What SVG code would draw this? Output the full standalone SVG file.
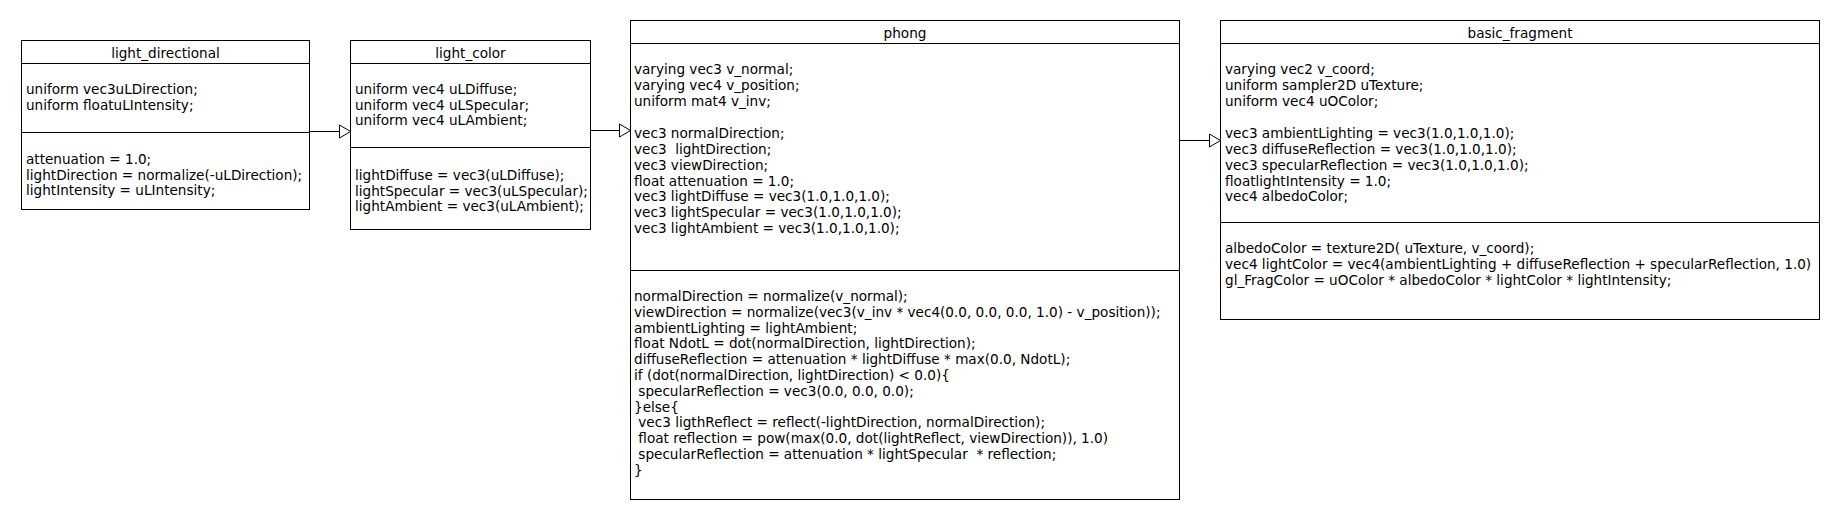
<svg xmlns="http://www.w3.org/2000/svg" width="1840" height="520" viewBox="0 0 1840 520">
<defs>
<style>
.box{fill:#fff;stroke:#000;stroke-width:1}
.sep{stroke:#000;stroke-width:1}
.t{font-family:"DejaVu Sans","Liberation Sans",sans-serif;font-size:13.6px;fill:#000}
.title{text-anchor:middle}
.edge{stroke:#000;stroke-width:1;fill:none}
</style>
<marker id="tri" markerUnits="userSpaceOnUse" markerWidth="14" markerHeight="16" refX="12" refY="7.5" orient="auto" viewBox="0 0 14 16">
<path d="M1,1 L12,7.5 L1,14 Z" fill="#fff" stroke="#000" stroke-width="1"/>
</marker>
</defs>
<rect width="1840" height="520" fill="#fff"/>

<g id="light_directional">
<rect class="box" x="21.5" y="40.5" width="288" height="169"/>
<line class="sep" x1="21.5" y1="63.5" x2="309.5" y2="63.5"/>
<line class="sep" x1="21.5" y1="132.5" x2="309.5" y2="132.5"/>
<text class="t title" x="165.5" y="58">light_directional</text>
<text class="t"><tspan x="26" y="94">uniform vec3uLDirection;</tspan><tspan x="26" y="109.5">uniform floatuLIntensity;</tspan></text>
<text class="t"><tspan x="26" y="164">attenuation = 1.0;</tspan><tspan x="26" y="179.5">lightDirection = normalize(-uLDirection);</tspan><tspan x="26" y="195">lightIntensity = uLIntensity;</tspan></text>
</g>

<g id="light_color">
<rect class="box" x="350.5" y="40.5" width="240" height="189"/>
<line class="sep" x1="350.5" y1="63.5" x2="590.5" y2="63.5"/>
<line class="sep" x1="350.5" y1="147.5" x2="590.5" y2="147.5"/>
<text class="t title" x="470.5" y="58">light_color</text>
<text class="t"><tspan x="355" y="94">uniform vec4 uLDiffuse;</tspan><tspan x="355" y="109.5">uniform vec4 uLSpecular;</tspan><tspan x="355" y="125">uniform vec4 uLAmbient;</tspan></text>
<text class="t"><tspan x="355" y="180">lightDiffuse = vec3(uLDiffuse);</tspan><tspan x="355" y="195.5">lightSpecular = vec3(uLSpecular);</tspan><tspan x="355" y="211">lightAmbient = vec3(uLAmbient);</tspan></text>
</g>

<g id="phong">
<rect class="box" x="630.5" y="20.5" width="549" height="479"/>
<line class="sep" x1="630.5" y1="43.5" x2="1179.5" y2="43.5"/>
<line class="sep" x1="630.5" y1="270.5" x2="1179.5" y2="270.5"/>
<text class="t title" x="905" y="38">phong</text>
<text class="t" xml:space="preserve"><tspan x="634" y="74">varying vec3 v_normal;</tspan><tspan x="634" y="90">varying vec4 v_position;</tspan><tspan x="634" y="106">uniform mat4 v_inv;</tspan><tspan x="634" y="138">vec3 normalDirection;</tspan><tspan x="634" y="153.8">vec3  lightDirection;</tspan><tspan x="634" y="169.6">vec3 viewDirection;</tspan><tspan x="634" y="185.5">float attenuation = 1.0;</tspan><tspan x="634" y="201.4">vec3 lightDiffuse = vec3(1.0,1.0,1.0);</tspan><tspan x="634" y="217.2">vec3 lightSpecular = vec3(1.0,1.0,1.0);</tspan><tspan x="634" y="233">vec3 lightAmbient = vec3(1.0,1.0,1.0);</tspan></text>
<text class="t" xml:space="preserve"><tspan x="634" y="301">normalDirection = normalize(v_normal);</tspan><tspan x="634" y="316.8">viewDirection = normalize(vec3(v_inv * vec4(0.0, 0.0, 0.0, 1.0) - v_position));</tspan><tspan x="634" y="332.6">ambientLighting = lightAmbient;</tspan><tspan x="634" y="348.4">float NdotL = dot(normalDirection, lightDirection);</tspan><tspan x="634" y="364.2">diffuseReflection = attenuation * lightDiffuse * max(0.0, NdotL);</tspan><tspan x="634" y="380">if (dot(normalDirection, lightDirection) &lt; 0.0){</tspan><tspan x="634" y="395.8"> specularReflection = vec3(0.0, 0.0, 0.0);</tspan><tspan x="634" y="411.6">}else{</tspan><tspan x="634" y="427.4"> vec3 ligthReflect = reflect(-lightDirection, normalDirection);</tspan><tspan x="634" y="443.2"> float reflection = pow(max(0.0, dot(lightReflect, viewDirection)), 1.0)</tspan><tspan x="634" y="459"> specularReflection = attenuation * lightSpecular  * reflection;</tspan><tspan x="634" y="474.8">}</tspan></text>
</g>

<g id="basic_fragment">
<rect class="box" x="1220.5" y="20.5" width="599" height="299"/>
<line class="sep" x1="1220.5" y1="43.5" x2="1819.5" y2="43.5"/>
<line class="sep" x1="1220.5" y1="222.5" x2="1819.5" y2="222.5"/>
<text class="t title" x="1520" y="38">basic_fragment</text>
<text class="t" xml:space="preserve"><tspan x="1225" y="74">varying vec2 v_coord;</tspan><tspan x="1225" y="90">uniform sampler2D uTexture;</tspan><tspan x="1225" y="106">uniform vec4 uOColor;</tspan><tspan x="1225" y="138">vec3 ambientLighting = vec3(1.0,1.0,1.0);</tspan><tspan x="1225" y="153.8">vec3 diffuseReflection = vec3(1.0,1.0,1.0);</tspan><tspan x="1225" y="169.6">vec3 specularReflection = vec3(1.0,1.0,1.0);</tspan><tspan x="1225" y="185.5">floatlightIntensity = 1.0;</tspan><tspan x="1225" y="201.4">vec4 albedoColor;</tspan></text>
<text class="t" xml:space="preserve"><tspan x="1225" y="253">albedoColor = texture2D( uTexture, v_coord);</tspan><tspan x="1225" y="269">vec4 lightColor = vec4(ambientLighting + diffuseReflection + specularReflection, 1.0)</tspan><tspan x="1225" y="285">gl_FragColor = uOColor * albedoColor * lightColor * lightIntensity;</tspan></text>
</g>

<g id="connectors">
<line class="edge" x1="309.5" y1="131.5" x2="350.5" y2="131.5" marker-end="url(#tri)"/>
<line class="edge" x1="590.5" y1="130.5" x2="630.5" y2="130.5" marker-end="url(#tri)"/>
<line class="edge" x1="1179.5" y1="140.5" x2="1220.5" y2="140.5" marker-end="url(#tri)"/>
</g>
</svg>
